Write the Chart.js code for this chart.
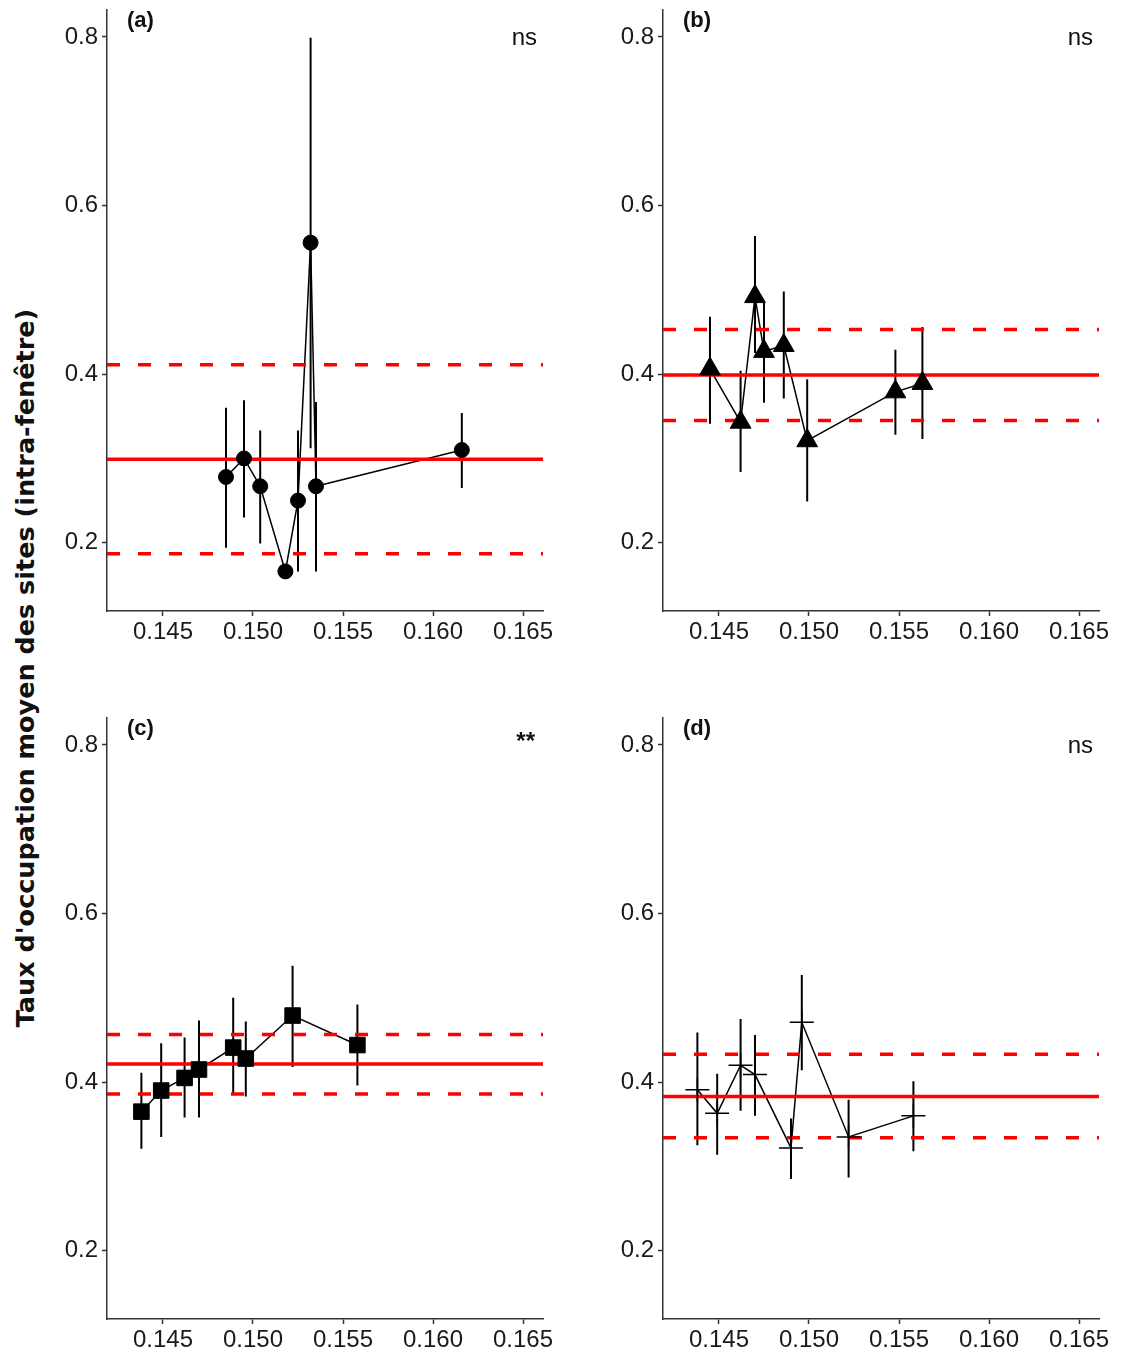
<!DOCTYPE html>
<html lang="fr">
<head>
  <meta charset="UTF-8">
  <title>Taux d'occupation</title>
  <script src="https://cdn.jsdelivr.net/npm/chart.js@4.4.1/dist/chart.umd.min.js"></script>
  <style>
    html, body { margin: 0; padding: 0; background: #fff; }
    body { width: 1121px; height: 1353px; position: relative; overflow: hidden; }
    canvas { position: absolute; }
    #ytitle {
      position: absolute;
      left: 25px;
      top: 668px;
      transform: translate(-50%, -50%) rotate(-90deg);
      white-space: nowrap;
      font: 700 25.5px "DejaVu Sans", sans-serif;
      color: #111;
    }
  </style>
</head>
<body>
  <canvas id="pa" width="520" height="660" style="left:40px;top:0px"></canvas>
  <canvas id="pb" width="520" height="660" style="left:596px;top:0px"></canvas>
  <canvas id="pc" width="520" height="660" style="left:40px;top:708px"></canvas>
  <canvas id="pd" width="520" height="660" style="left:596px;top:708px"></canvas>
  <div id="ytitle">Taux d'occupation moyen des sites (intra-fenêtre)</div>

  <script>
    // axes
    var xTicks = [0.145, 0.150, 0.155, 0.160, 0.165];
    var yTicks = [0.2, 0.4, 0.6, 0.8];
    var xMin = 0.14189, xMax = 0.16611;
    var yMin = 0.119, yMax = 0.832;

    // (a)
    var xA  = [0.1485, 0.1495, 0.1504, 0.1518, 0.1525, 0.1532, 0.1535, 0.1616];
    var yA  = [0.278, 0.300, 0.267, 0.166, 0.250, 0.556, 0.267, 0.310];
    var loA = [0.194, 0.230, 0.199, 0.166, 0.166, 0.312, 0.166, 0.265];
    var hiA = [0.360, 0.369, 0.333, 0.166, 0.333, 0.799, 0.367, 0.354];
    var refA = [0.299, 0.187, 0.411]; // moyenne, borne basse, borne haute

    // (b)
    var xB  = [0.1445, 0.1462, 0.1470, 0.1475, 0.1486, 0.1499, 0.1548, 0.1563];
    var yB  = [0.406, 0.343, 0.492, 0.427, 0.434, 0.321, 0.379, 0.389];
    var loB = [0.341, 0.284, 0.425, 0.366, 0.371, 0.249, 0.328, 0.323];
    var hiB = [0.468, 0.404, 0.564, 0.486, 0.498, 0.394, 0.429, 0.456];
    var refB = [0.399, 0.345, 0.453];

    // (c)
    var xC  = [0.1438, 0.1449, 0.1462, 0.1470, 0.1489, 0.1496, 0.1522, 0.1558];
    var yC  = [0.365, 0.390, 0.405, 0.415, 0.441, 0.428, 0.479, 0.444];
    var loC = [0.321, 0.335, 0.358, 0.358, 0.386, 0.383, 0.418, 0.396];
    var hiC = [0.411, 0.446, 0.453, 0.473, 0.500, 0.472, 0.538, 0.492];
    var refC = [0.4215, 0.386, 0.4565];

    // (d)
    var xD  = [0.1438, 0.1449, 0.1462, 0.1470, 0.1490, 0.1496, 0.1522, 0.1558];
    var yD  = [0.391, 0.363, 0.420, 0.409, 0.322, 0.471, 0.335, 0.360];
    var loD = [0.325, 0.314, 0.366, 0.360, 0.285, 0.414, 0.287, 0.318];
    var hiD = [0.459, 0.410, 0.475, 0.456, 0.357, 0.527, 0.379, 0.401];
    var refD = [0.383, 0.334, 0.433];

    var tickFont = { family: '"Liberation Sans", Arial, sans-serif', size: 24 };
    var axisColor = '#333';

    var labelsPlugin = {
      id: 'panelLabels',
      afterDraw: function(chart){
        var o = chart.options.plugins.panelLabels, a = chart.chartArea, ctx = chart.ctx;
        ctx.save();
        ctx.fillStyle = '#111';
        ctx.textBaseline = 'middle';
        ctx.font = 'bold 22px "Liberation Sans", Arial, sans-serif';
        ctx.textAlign = 'left';
        ctx.fillText(o.tag, a.left + 20, a.top + 11);
        ctx.textAlign = 'right';
        if (o.sig === '**') {
          ctx.font = 'bold 24px "Liberation Sans", Arial, sans-serif';
          ctx.fillText(o.sig, a.right - 8, a.top + 24);
        } else {
          ctx.font = '24px "Liberation Sans", Arial, sans-serif';
          ctx.fillText(o.sig, a.right - 6, a.top + 28);
        }
        ctx.restore();
      }
    };

    function pts(xs, ys){
      return xs.map(function(x, i){ return { x: x, y: ys[i] }; });
    }

    function errSegs(xs, lo, hi){
      var out = [];
      xs.forEach(function(x, i){
        out.push({ x: x, y: lo[i] }, { x: x, y: hi[i] }, { x: x, y: null });
      });
      return out;
    }

    function hline(v, dashed){
      return {
        data: [{ x: xMin, y: v }, { x: xMax, y: v }],
        showLine: true, pointRadius: 0,
        borderColor: '#ff0000', borderWidth: 3.5,
        borderDash: dashed ? [13, 18] : [],
        order: 1
      };
    }

    function panel(id, xs, ys, lo, hi, ref, marker, tag, sig){
      var m = {
        circle:   { pointStyle: 'circle',   pointRadius: 7.5, borderWidth: 1 },
        triangle: { pointStyle: 'triangle', pointRadius: 12,  borderWidth: 1 },
        rect:     { pointStyle: 'rect',     pointRadius: 11,  borderWidth: 1 },
        cross:    { pointStyle: 'cross',    pointRadius: 12,  borderWidth: 1.5 }
      }[marker];

      return new Chart(document.getElementById(id), {
        type: 'scatter',
        data: {
          datasets: [
            {
              data: pts(xs, ys), showLine: false,
              pointStyle: m.pointStyle, pointRadius: m.pointRadius,
              pointBorderWidth: m.borderWidth,
              pointBackgroundColor: '#000', pointBorderColor: '#000',
              order: 0
            },
            hline(ref[0], false),
            hline(ref[1], true),
            hline(ref[2], true),
            {
              data: pts(xs, ys), showLine: true, pointRadius: 0,
              borderColor: '#000', borderWidth: 1.5, order: 2
            },
            {
              data: errSegs(xs, lo, hi), showLine: true, spanGaps: false, pointRadius: 0,
              borderColor: '#000', borderWidth: 2, order: 2
            }
          ]
        },
        options: {
          responsive: false,
          animation: false,
          events: [],
          layout: { autoPadding: false, padding: { top: 10, right: 17, left: 0, bottom: 0 } },
          plugins: {
            legend: { display: false },
            tooltip: { enabled: false },
            panelLabels: { tag: tag, sig: sig }
          },
          scales: {
            x: {
              type: 'linear', min: xMin, max: xMax,
              afterBuildTicks: function(s){ s.ticks = xTicks.map(function(v){ return { value: v }; }); },
              afterFit: function(s){ s.height = 49; s.paddingLeft = 0; s.paddingRight = 0; },
              ticks: { font: tickFont, color: '#1a1a1a', padding: 2, maxRotation: 0,
                callback: function(v){ return v.toFixed(3); } },
              grid: { drawOnChartArea: false, drawTicks: true, tickLength: 5, tickColor: axisColor, tickWidth: 1.5 },
              border: { display: true, color: axisColor, width: 1.5 }
            },
            y: {
              type: 'linear', min: yMin, max: yMax,
              afterBuildTicks: function(s){ s.ticks = yTicks.map(function(v){ return { value: v }; }); },
              afterFit: function(s){ s.width = 67; s.paddingTop = 0; s.paddingBottom = 0; },
              ticks: { font: tickFont, color: '#1a1a1a', padding: 4,
                callback: function(v){ return v.toFixed(1); } },
              grid: { drawOnChartArea: false, drawTicks: true, tickLength: 5, tickColor: axisColor, tickWidth: 1.5 },
              border: { display: true, color: axisColor, width: 1.5 }
            }
          }
        },
        plugins: [labelsPlugin]
      });
    }

    panel('pa', xA, yA, loA, hiA, refA, 'circle', '(a)', 'ns');
    panel('pb', xB, yB, loB, hiB, refB, 'triangle', '(b)', 'ns');
    panel('pc', xC, yC, loC, hiC, refC, 'rect', '(c)', '**');
    panel('pd', xD, yD, loD, hiD, refD, 'cross', '(d)', 'ns');
  </script>
</body>
</html>
